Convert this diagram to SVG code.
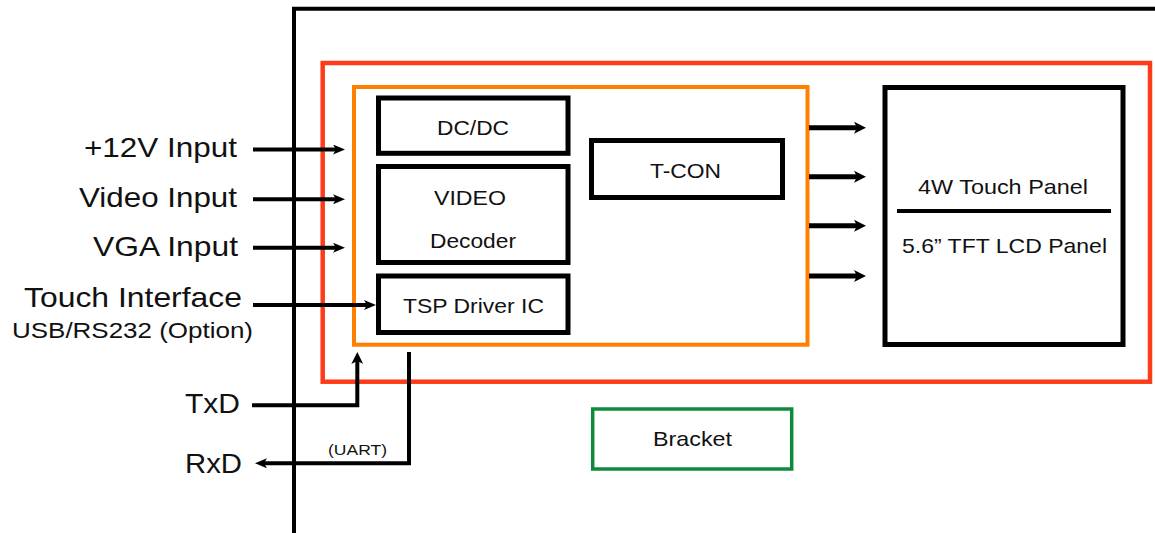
<svg xmlns="http://www.w3.org/2000/svg" width="1155" height="533" viewBox="0 0 1155 533">
<defs>
<style>
text{font-family:"Liberation Sans",Arial,sans-serif;fill:#111;}
.lbl{font-size:28px;}
.sm{font-size:22px;}
.in{font-size:21px;}
.box{fill:none;stroke:#000;stroke-width:5;}
.con{fill:none;stroke:#000;stroke-width:4;}
.conb{fill:none;stroke:#000;stroke-width:5;}
</style>
<marker id="ah" markerUnits="userSpaceOnUse" viewBox="0 0 12 10" markerWidth="12" markerHeight="10" refX="3" refY="5" orient="auto">
<path d="M0,0 L12,5 L0,10 L3,5 Z" fill="#000"/>
</marker>
<marker id="ahb" markerUnits="userSpaceOnUse" viewBox="0 0 12 12" markerWidth="12" markerHeight="12" refX="3" refY="6" orient="auto">
<path d="M0,0 L12,6 L0,12 L3,6 Z" fill="#000"/>
</marker>
</defs>
<rect width="1155" height="533" fill="#fff"/>

<g id="frame"><path d="M294,533 V8.7 H1157" fill="none" stroke="#000" stroke-width="4"/></g>
<g id="module"><rect x="322.7" y="63" width="827.3" height="318.7" fill="none" stroke="#FF3C1A" stroke-width="4.5"/></g>
<g id="board"><rect x="354" y="87" width="453.5" height="257.7" fill="none" stroke="#FF8000" stroke-width="4"/></g>

<g id="dcdc"><rect class="box" x="378.5" y="98" width="189.5" height="55.3"/>
<text class="in" x="437" y="135" textLength="72" lengthAdjust="spacingAndGlyphs">DC/DC</text></g>
<g id="video"><rect class="box" x="378.5" y="166.5" width="189.5" height="96"/>
<text class="in" x="434" y="205" textLength="72" lengthAdjust="spacingAndGlyphs">VIDEO</text>
<text class="in" x="430" y="248" textLength="86" lengthAdjust="spacingAndGlyphs">Decoder</text></g>
<g id="tsp"><rect class="box" x="378.5" y="276" width="189.5" height="56.5"/>
<text class="in" x="403" y="313" textLength="141" lengthAdjust="spacingAndGlyphs">TSP Driver IC</text></g>
<g id="tcon"><rect class="box" x="591.5" y="140.5" width="191" height="57"/>
<text class="in" x="650" y="178" textLength="71" lengthAdjust="spacingAndGlyphs">T-CON</text></g>
<g id="panel"><rect class="box" x="885" y="87.5" width="238" height="257"/>
<line x1="897" y1="211" x2="1111" y2="211" stroke="#000" stroke-width="4"/>
<text class="in" x="918" y="194" textLength="170" lengthAdjust="spacingAndGlyphs">4W Touch Panel</text>
<text class="in" x="902" y="253" textLength="205" lengthAdjust="spacingAndGlyphs">5.6” TFT LCD Panel</text></g>
<g id="bracket"><rect x="592.7" y="409" width="199" height="60" fill="none" stroke="#0F8A3C" stroke-width="3.5"/>
<text class="in" x="653" y="446" textLength="79" lengthAdjust="spacingAndGlyphs">Bracket</text></g>

<g id="labels">
<text class="lbl" x="84" y="157" textLength="153" lengthAdjust="spacingAndGlyphs">+12V Input</text>
<text class="lbl" x="79" y="207" textLength="158" lengthAdjust="spacingAndGlyphs">Video Input</text>
<text class="lbl" x="93" y="256" textLength="145" lengthAdjust="spacingAndGlyphs">VGA Input</text>
<text class="lbl" x="24" y="307" textLength="218" lengthAdjust="spacingAndGlyphs">Touch Interface</text>
<text class="sm" x="12" y="338" textLength="241" lengthAdjust="spacingAndGlyphs">USB/RS232 (Option)</text>
<text class="lbl" x="185" y="413" textLength="55" lengthAdjust="spacingAndGlyphs">TxD</text>
<text class="lbl" x="185" y="473" textLength="57" lengthAdjust="spacingAndGlyphs">RxD</text>
<text x="328" y="455" font-size="15" textLength="59" lengthAdjust="spacingAndGlyphs">(UART)</text>
</g>

<g id="connectors">
<line class="con" x1="253" y1="149.5" x2="336" y2="149.5" marker-end="url(#ah)"/>
<line class="con" x1="253" y1="199.3" x2="336" y2="199.3" marker-end="url(#ah)"/>
<line class="con" x1="253" y1="247.7" x2="336" y2="247.7" marker-end="url(#ah)"/>
<line class="con" x1="253" y1="305" x2="367" y2="305" marker-end="url(#ah)"/>
<line class="conb" x1="809" y1="127.7" x2="857" y2="127.7" marker-end="url(#ahb)"/>
<line class="conb" x1="809" y1="176.7" x2="857" y2="176.7" marker-end="url(#ahb)"/>
<line class="conb" x1="809" y1="225.7" x2="857" y2="225.7" marker-end="url(#ahb)"/>
<line class="conb" x1="809" y1="276" x2="857" y2="276" marker-end="url(#ahb)"/>
<path class="con" d="M252,405.3 H357.3 V361" marker-end="url(#ahb)"/>
<path class="con" d="M409,352 V463.3 H264" marker-end="url(#ah)"/>
</g>
</svg>
